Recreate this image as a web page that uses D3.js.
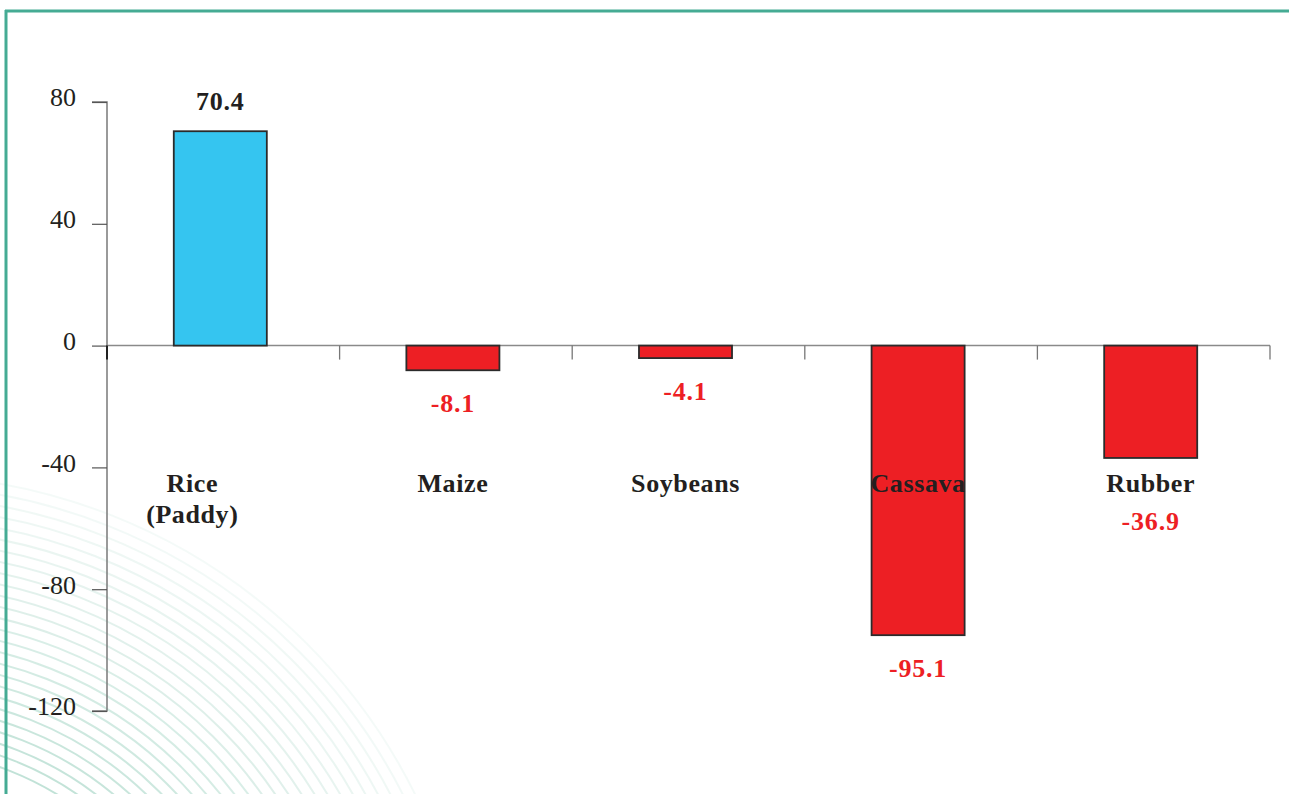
<!DOCTYPE html>
<html>
<head>
<meta charset="utf-8">
<script src="https://cdn.jsdelivr.net/npm/d3@7"></script>
<style>
  body { margin: 0; background: #fff; }
  text { font-family: "Liberation Serif", "DejaVu Serif", serif; }
</style>
</head>
<body>
<div id="chart"></div>
<script>
// Chart data
var categories = ["Rice|(Paddy)", "Maize", "Soybeans", "Cassava", "Rubber"];
var values = [70.4, -8.1, -4.1, -95.1, -36.9];
var yTicks = [80, 40, 0, -40, -80, -120];

var W = 1289, H = 794;
var margin = {top: 102, right: 19, bottom: 83, left: 107},
    width = W - margin.left - margin.right,
    height = H - margin.top - margin.bottom;

// plain hyphen for negatives, as in the original
function fmt(f) { return function(d) { return f(d).replace("\u2212", "-"); }; }

var svg = d3.select("#chart")
  .append("svg")
  .attr("width", W)
  .attr("height", H);

// Decorative arcs, bottom left corner
var deco = svg.append("g");
d3.range(0, 26).forEach(function(i) {
  var r = 300 + i * 11;
  deco.append("circle")
      .attr("cx", -100)
      .attr("cy", 1050)
      .attr("r", r)
      .attr("fill", "none")
      .attr("stroke", "#b6ddd0")
      .attr("stroke-width", 2)
      .attr("opacity", 0.85 - i * 0.028);
});

// Frame lines top and left
svg.append("line")
    .attr("x1", 5).attr("x2", W).attr("y1", 11).attr("y2", 11)
    .attr("stroke", "#45ab94").attr("stroke-width", 3);
svg.append("line")
    .attr("x1", 6).attr("x2", 6).attr("y1", 10).attr("y2", H)
    .attr("stroke", "#45ab94").attr("stroke-width", 3);

var g = svg.append("g")
    .attr("transform", "translate(" + margin.left + "," + margin.top + ")");

// Scales
var x = d3.scaleBand()
    .domain(categories)
    .range([0, width]);

var y = d3.scaleLinear()
    .domain([-120, 80])
    .range([height, 0]);

var barW = x.bandwidth() * 0.4;
var shift = -3;

// Y axis
var yAxis = d3.axisLeft(y)
    .tickValues(yTicks)
    .tickSize(15)
    .tickPadding(16)
    .tickFormat(fmt(d3.format("d")));

var yg = g.append("g")
    .attr("class", "y axis")
    .call(yAxis);
yg.select(".domain").attr("stroke", "#7a7a7a").attr("stroke-width", 1.5)
    .attr("d", "M-15," + y(80) + "H0V" + y(-120) + "H-15");
yg.selectAll(".tick line").attr("stroke", "#555").attr("stroke-width", 1.2);
yg.selectAll(".tick text")
    .attr("fill", "#231f20")
    .style("font-size", "26px")
    .attr("dy", "0.15em");

// Zero line with ticks at band boundaries
var bounds = categories.map(function(c) { return x(c); }).concat([width]);
g.append("line")
    .attr("x1", 0).attr("x2", width)
    .attr("y1", y(0)).attr("y2", y(0))
    .attr("stroke", "#8a8a8a").attr("stroke-width", 1.5);
g.selectAll(".xtick")
  .data(bounds)
  .enter().append("line")
    .attr("class", "xtick")
    .attr("x1", function(d) { return d; })
    .attr("x2", function(d) { return d; })
    .attr("y1", y(0))
    .attr("y2", y(0) + 14)
    .attr("stroke", function(d, i) { return i === 0 ? "#222" : "#777"; })
    .attr("stroke-width", function(d, i) { return i === 0 ? 2 : 1.3; });

// Bars
g.selectAll(".bar")
  .data(values)
  .enter().append("rect")
    .attr("class", "bar")
    .attr("x", function(d, i) { return x(categories[i]) + (x.bandwidth() - barW) / 2 + shift; })
    .attr("width", barW)
    .attr("y", function(d) { return y(Math.max(0, d)); })
    .attr("height", function(d) { return Math.abs(y(d) - y(0)); })
    .attr("fill", function(d) { return d > 0 ? "#35c5f0" : "#ed1f24"; })
    .attr("stroke", "#2b2b2b")
    .attr("stroke-width", 1.8);

// Category labels
var labelY = 492;
g.selectAll(".cat")
  .data(categories)
  .enter().append("text")
    .attr("class", "cat")
    .attr("text-anchor", "middle")
    .attr("fill", "#231f20")
    .style("font-size", "26px")
    .style("font-weight", "bold")
    .style("letter-spacing", "0.6px")
    .each(function(c) {
      var cx = x(c) + x.bandwidth() / 2 + shift;
      var lines = c.split("|");
      var t = d3.select(this);
      lines.forEach(function(l, k) {
        t.append("tspan")
          .attr("x", cx - (lines.length > 1 ? 28 : 0))
          .attr("y", labelY - margin.top + k * 31)
          .text(l);
      });
    });

// Value labels
g.selectAll(".val")
  .data(values)
  .enter().append("text")
    .attr("class", "val")
    .attr("text-anchor", "middle")
    .style("font-size", "26px")
    .style("font-weight", "bold")
    .style("letter-spacing", "0.8px")
    .attr("fill", function(d) { return d > 0 ? "#231f20" : "#ed1f24"; })
    .attr("x", function(d, i) { return x(categories[i]) + x.bandwidth() / 2 + shift; })
    .attr("y", function(d) {
      if (d > 0) return y(d) - 21;
      var ly = y(d) + 42;
      // keep clear of the category label row
      var row = labelY - margin.top;
      if (ly > row - 30 && ly < row + 30) ly = row + 38;
      return ly;
    })
    .text(fmt(d3.format(".1f")));
</script>
</body>
</html>
